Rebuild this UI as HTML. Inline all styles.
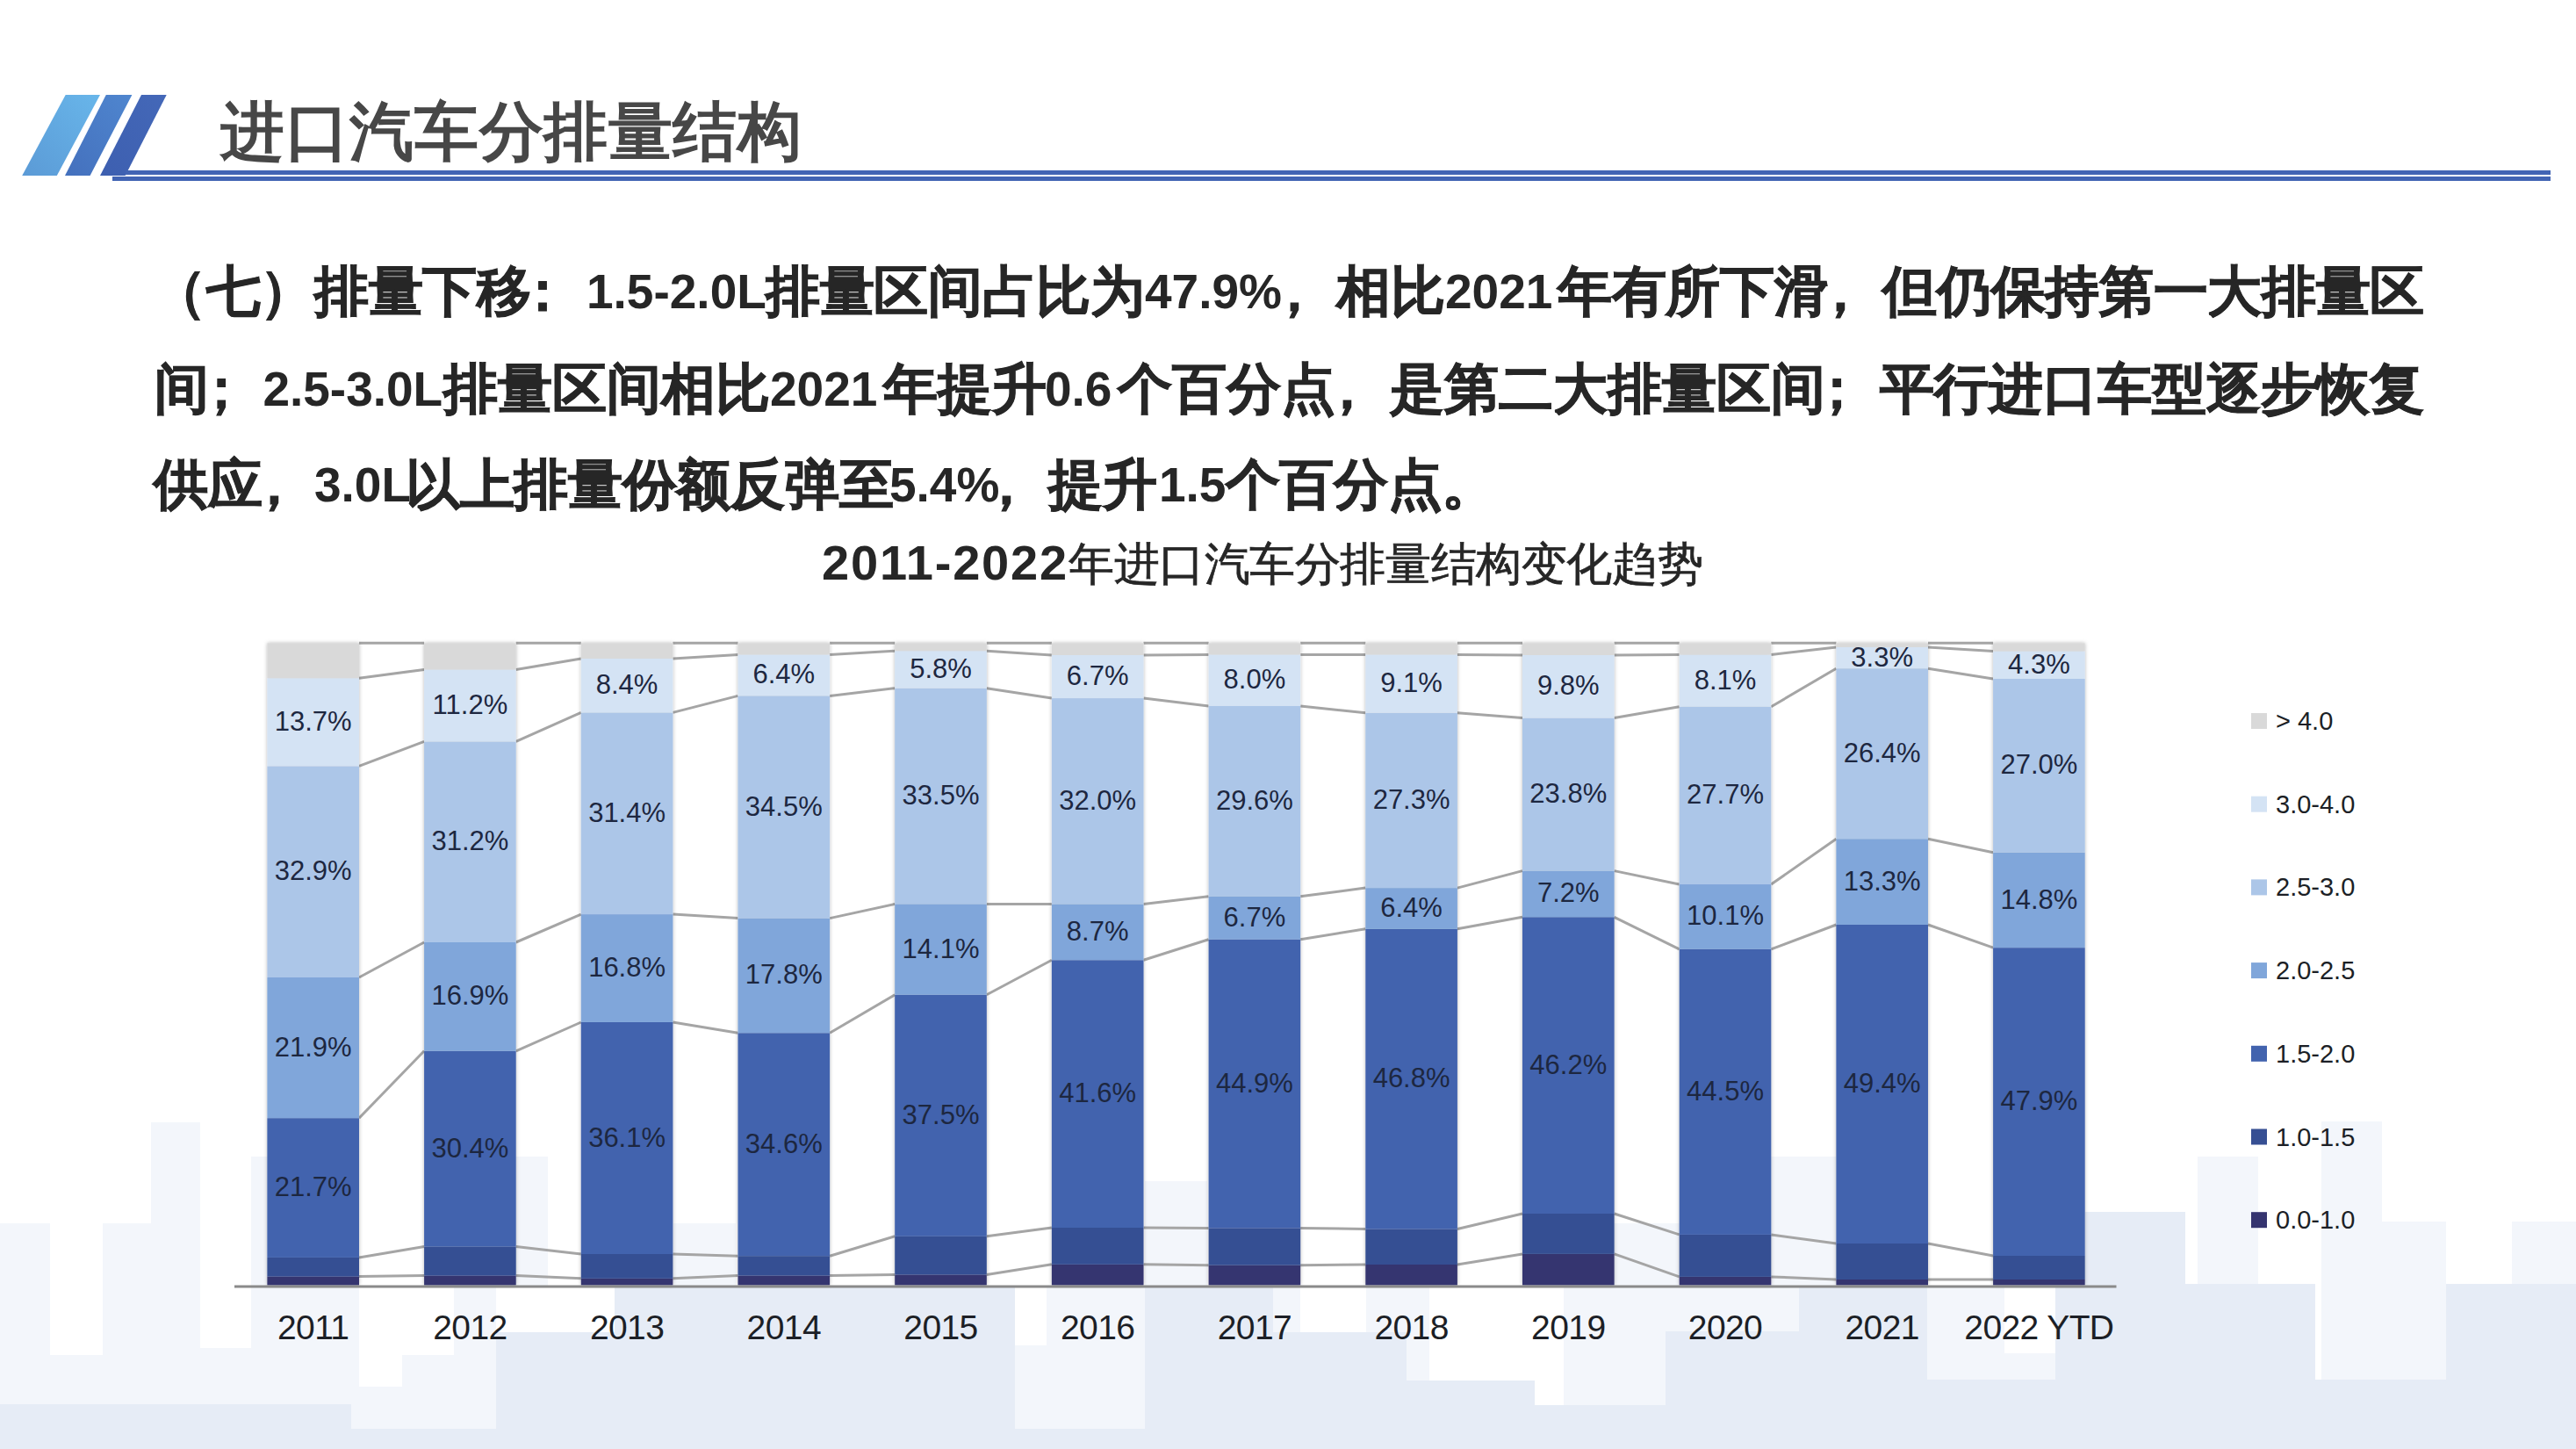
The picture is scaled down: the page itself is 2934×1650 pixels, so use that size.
<!DOCTYPE html>
<html><head><meta charset="utf-8"><title>进口汽车分排量结构</title>
<style>
html,body{margin:0;padding:0;background:#fff;}
body{width:2934px;height:1650px;position:relative;overflow:hidden;font-family:"Liberation Sans",sans-serif;}
.b{position:absolute;}
.chart{position:absolute;left:0;top:0;}
.c{display:inline-block;text-align:center;}
.p{position:relative;left:-0.28em;}
.title{position:absolute;left:251px;top:105px;height:90px;line-height:90px;font-size:73px;font-weight:bold;color:#474747;white-space:nowrap;}
.pc{position:absolute;height:80px;line-height:80px;font-size:62px;font-weight:bold;color:#262626;white-space:nowrap;-webkit-text-stroke:0.9px #262626;}
.pl{position:absolute;height:80px;line-height:80px;font-size:55px;font-weight:bold;color:#262626;white-space:nowrap;}
.ctitle{position:absolute;left:936px;top:606px;height:70px;line-height:70px;font-size:52px;font-weight:normal;color:#262626;-webkit-text-stroke:0.7px #262626;white-space:nowrap;}
.cl{font-size:56px;font-weight:bold;letter-spacing:1.8px;margin-right:0px;-webkit-text-stroke:0;}
.rule{position:absolute;background:#4264b4;}
</style></head><body>
<div class="b" style="left:0px;top:1599px;width:416px;height:51px;background:#e6ecf6"></div><div class="b" style="left:416px;top:1627px;width:149px;height:23px;background:#e6ecf6"></div><div class="b" style="left:565px;top:1517px;width:135px;height:133px;background:#e6ecf6"></div><div class="b" style="left:700px;top:1466px;width:456px;height:184px;background:#e6ecf6"></div><div class="b" style="left:1156px;top:1627px;width:148px;height:23px;background:#e6ecf6"></div><div class="b" style="left:1304px;top:1466px;width:177px;height:184px;background:#e6ecf6"></div><div class="b" style="left:1481px;top:1517px;width:121px;height:133px;background:#e6ecf6"></div><div class="b" style="left:1602px;top:1572px;width:146px;height:78px;background:#e6ecf6"></div><div class="b" style="left:1748px;top:1600px;width:149px;height:50px;background:#e6ecf6"></div><div class="b" style="left:1897px;top:1516px;width:152px;height:134px;background:#e6ecf6"></div><div class="b" style="left:2049px;top:1466px;width:146px;height:184px;background:#e6ecf6"></div><div class="b" style="left:2195px;top:1571px;width:146px;height:79px;background:#e6ecf6"></div><div class="b" style="left:2341px;top:1466px;width:34px;height:184px;background:#e6ecf6"></div><div class="b" style="left:2375px;top:1380px;width:114px;height:270px;background:#e6ecf6"></div><div class="b" style="left:2489px;top:1462px;width:148px;height:188px;background:#e6ecf6"></div><div class="b" style="left:2637px;top:1571px;width:149px;height:79px;background:#e6ecf6"></div><div class="b" style="left:2786px;top:1462px;width:148px;height:188px;background:#e6ecf6"></div><div class="b" style="left:0px;top:1393px;width:57px;height:206px;background:#f3f6fb"></div><div class="b" style="left:57px;top:1543px;width:60px;height:56px;background:#f3f6fb"></div><div class="b" style="left:117px;top:1393px;width:55px;height:206px;background:#f3f6fb"></div><div class="b" style="left:172px;top:1278px;width:56px;height:321px;background:#f3f6fb"></div><div class="b" style="left:228px;top:1535px;width:58px;height:64px;background:#f3f6fb"></div><div class="b" style="left:286px;top:1317px;width:123px;height:282px;background:#f3f6fb"></div><div class="b" style="left:483px;top:1317px;width:141px;height:149px;background:#f3f6fb"></div><div class="b" style="left:400px;top:1579px;width:58px;height:48px;background:#f3f6fb"></div><div class="b" style="left:458px;top:1543px;width:59px;height:84px;background:#f3f6fb"></div><div class="b" style="left:517px;top:1466px;width:48px;height:161px;background:#f3f6fb"></div><div class="b" style="left:767px;top:1393px;width:71px;height:73px;background:#f3f6fb"></div><div class="b" style="left:1156px;top:1466px;width:148px;height:161px;background:#f3f6fb"></div><div class="b" style="left:1156px;top:1466px;width:36px;height:66px;background:#ffffff"></div><div class="b" style="left:1304px;top:1345px;width:71px;height:121px;background:#f3f6fb"></div><div class="b" style="left:1450px;top:1466px;width:31px;height:51px;background:#f3f6fb"></div><div class="b" style="left:1556px;top:1466px;width:46px;height:51px;background:#f3f6fb"></div><div class="b" style="left:1602px;top:1466px;width:26px;height:106px;background:#f3f6fb"></div><div class="b" style="left:1781px;top:1466px;width:116px;height:134px;background:#f3f6fb"></div><div class="b" style="left:1897px;top:1466px;width:152px;height:50px;background:#f3f6fb"></div><div class="b" style="left:1838px;top:1393px;width:75px;height:73px;background:#f3f6fb"></div><div class="b" style="left:2017px;top:1317px;width:74px;height:149px;background:#f3f6fb"></div><div class="b" style="left:2195px;top:1466px;width:88px;height:105px;background:#f3f6fb"></div><div class="b" style="left:2283px;top:1541px;width:58px;height:30px;background:#f3f6fb"></div><div class="b" style="left:2503px;top:1317px;width:69px;height:145px;background:#f3f6fb"></div><div class="b" style="left:2644px;top:1277px;width:69px;height:294px;background:#f3f6fb"></div><div class="b" style="left:2713px;top:1391px;width:73px;height:180px;background:#f3f6fb"></div><div class="b" style="left:2861px;top:1391px;width:73px;height:71px;background:#f3f6fb"></div>
<svg style="position:absolute;left:0;top:0" width="240" height="220">
<defs>
<linearGradient id="g1" x1="0" y1="1" x2="1" y2="0"><stop offset="0" stop-color="#5b9ad6"/><stop offset="1" stop-color="#68b6ea"/></linearGradient>
<linearGradient id="g2" x1="0" y1="1" x2="1" y2="0"><stop offset="0" stop-color="#4470bd"/><stop offset="1" stop-color="#4f86cf"/></linearGradient>
<linearGradient id="g3" x1="0" y1="1" x2="1" y2="0"><stop offset="0" stop-color="#3d5fb0"/><stop offset="1" stop-color="#4468b8"/></linearGradient>
</defs>
<polygon points="74.7,108 114,108 64.8,200 25.2,200" fill="url(#g1)"/>
<polygon points="120.8,108 150.4,108 102.6,200 74,200" fill="url(#g2)"/>
<polygon points="161,108 189.7,108 142.7,200 114,200" fill="url(#g3)"/>
</svg>
<div class="rule" style="left:143px;top:194px;width:2762px;height:5px"></div>
<div class="rule" style="left:128px;top:201px;width:2777px;height:5px"></div>
<div class="title"><span class="c" style="width:73.60px">进</span><span class="c" style="width:73.60px">口</span><span class="c" style="width:73.60px">汽</span><span class="c" style="width:73.60px">车</span><span class="c" style="width:73.60px">分</span><span class="c" style="width:73.60px">排</span><span class="c" style="width:73.60px">量</span><span class="c" style="width:73.60px">结</span><span class="c" style="width:73.60px">构</span></div>
<div class="pc" style="left:173.0px;top:291.5px"><span class="c" style="width:61.70px">（</span><span class="c" style="width:61.70px">七</span><span class="c" style="width:61.70px">）</span><span class="c" style="width:61.70px">排</span><span class="c" style="width:61.70px">量</span><span class="c" style="width:61.70px">下</span><span class="c" style="width:61.70px">移</span><span class="c" style="width:61.70px"><span class="p">：</span></span></div><div class="pl" style="left:668.0px;top:291.5px">1.5-2.0L</div><div class="pc" style="left:872.0px;top:291.5px"><span class="c" style="width:61.70px">排</span><span class="c" style="width:61.70px">量</span><span class="c" style="width:61.70px">区</span><span class="c" style="width:61.70px">间</span><span class="c" style="width:61.70px">占</span><span class="c" style="width:61.70px">比</span><span class="c" style="width:61.70px">为</span></div><div class="pl" style="left:1304.0px;top:291.5px">47.9%</div><div class="pc" style="left:1460.3px;top:291.5px"><span class="c" style="width:61.70px"><span class="p">，</span></span><span class="c" style="width:61.70px">相</span><span class="c" style="width:61.70px">比</span></div><div class="pl" style="left:1646.0px;top:291.5px">2021</div><div class="pc" style="left:1774.0px;top:291.5px"><span class="c" style="width:61.70px">年</span><span class="c" style="width:61.70px">有</span><span class="c" style="width:61.70px">所</span><span class="c" style="width:61.70px">下</span><span class="c" style="width:61.70px">滑</span><span class="c" style="width:61.70px"><span class="p">，</span></span><span class="c" style="width:61.70px">但</span><span class="c" style="width:61.70px">仍</span><span class="c" style="width:61.70px">保</span><span class="c" style="width:61.70px">持</span><span class="c" style="width:61.70px">第</span><span class="c" style="width:61.70px">一</span><span class="c" style="width:61.70px">大</span><span class="c" style="width:61.70px">排</span><span class="c" style="width:61.70px">量</span><span class="c" style="width:61.70px">区</span></div><div class="pc" style="left:176.0px;top:402.5px"><span class="c" style="width:62.00px">间</span><span class="c" style="width:62.00px"><span class="p">；</span></span></div><div class="pl" style="left:299.4px;top:402.5px">2.5-3.0L</div><div class="pc" style="left:504.5px;top:402.5px"><span class="c" style="width:62.00px">排</span><span class="c" style="width:62.00px">量</span><span class="c" style="width:62.00px">区</span><span class="c" style="width:62.00px">间</span><span class="c" style="width:62.00px">相</span><span class="c" style="width:62.00px">比</span></div><div class="pl" style="left:877.0px;top:402.5px">2021</div><div class="pc" style="left:1006.0px;top:402.5px"><span class="c" style="width:62.00px">年</span><span class="c" style="width:62.00px">提</span><span class="c" style="width:62.00px">升</span></div><div class="pl" style="left:1190.0px;top:402.5px">0.6</div><div class="pc" style="left:1272.5px;top:402.5px"><span class="c" style="width:62.00px">个</span><span class="c" style="width:62.00px">百</span><span class="c" style="width:62.00px">分</span><span class="c" style="width:62.00px">点</span><span class="c" style="width:62.00px"><span class="p">，</span></span><span class="c" style="width:62.00px">是</span><span class="c" style="width:62.00px">第</span><span class="c" style="width:62.00px">二</span><span class="c" style="width:62.00px">大</span><span class="c" style="width:62.00px">排</span><span class="c" style="width:62.00px">量</span><span class="c" style="width:62.00px">区</span><span class="c" style="width:62.00px">间</span><span class="c" style="width:62.00px"><span class="p">；</span></span><span class="c" style="width:62.00px">平</span><span class="c" style="width:62.00px">行</span><span class="c" style="width:62.00px">进</span><span class="c" style="width:62.00px">口</span><span class="c" style="width:62.00px">车</span><span class="c" style="width:62.00px">型</span><span class="c" style="width:62.00px">逐</span><span class="c" style="width:62.00px">步</span><span class="c" style="width:62.00px">恢</span><span class="c" style="width:62.00px">复</span></div><div class="pc" style="left:175.0px;top:512.0px"><span class="c" style="width:61.70px">供</span><span class="c" style="width:61.70px">应</span><span class="c" style="width:61.70px"><span class="p">，</span></span></div><div class="pl" style="left:358.0px;top:512.0px">3.0L</div><div class="pc" style="left:462.0px;top:512.0px"><span class="c" style="width:61.70px">以</span><span class="c" style="width:61.70px">上</span><span class="c" style="width:61.70px">排</span><span class="c" style="width:61.70px">量</span><span class="c" style="width:61.70px">份</span><span class="c" style="width:61.70px">额</span><span class="c" style="width:61.70px">反</span><span class="c" style="width:61.70px">弹</span><span class="c" style="width:61.70px">至</span></div><div class="pl" style="left:1013.0px;top:512.0px">5.4%</div><div class="pc" style="left:1132.5px;top:512.0px"><span class="c" style="width:61.70px"><span class="p">，</span></span><span class="c" style="width:61.70px">提</span><span class="c" style="width:61.70px">升</span></div><div class="pl" style="left:1320.0px;top:512.0px">1.5</div><div class="pc" style="left:1395.5px;top:512.0px"><span class="c" style="width:61.70px">个</span><span class="c" style="width:61.70px">百</span><span class="c" style="width:61.70px">分</span><span class="c" style="width:61.70px">点</span><span class="c" style="width:61.70px">。</span></div>
<div class="ctitle"><span class="cl">2011-2022</span><span class="c" style="width:51.60px">年</span><span class="c" style="width:51.60px">进</span><span class="c" style="width:51.60px">口</span><span class="c" style="width:51.60px">汽</span><span class="c" style="width:51.60px">车</span><span class="c" style="width:51.60px">分</span><span class="c" style="width:51.60px">排</span><span class="c" style="width:51.60px">量</span><span class="c" style="width:51.60px">结</span><span class="c" style="width:51.60px">构</span><span class="c" style="width:51.60px">变</span><span class="c" style="width:51.60px">化</span><span class="c" style="width:51.60px">趋</span><span class="c" style="width:51.60px">势</span></div>
<svg class="chart" width="2934" height="1650" viewBox="0 0 2934 1650">
<defs><filter id="sh" x="-10%" y="-2%" width="120%" height="104%"><feDropShadow dx="0" dy="0" stdDeviation="2.2" flood-color="#000" flood-opacity="0.28"/></filter></defs>
<g stroke="#a5a5a5" stroke-width="3"><line x1="409.0" y1="1453.6" x2="483.1" y2="1452.6"/><line x1="587.7" y1="1452.6" x2="661.8" y2="1455.8"/><line x1="766.4" y1="1455.8" x2="840.5" y2="1452.6"/><line x1="945.1" y1="1452.6" x2="1019.2" y2="1451.5"/><line x1="1123.8" y1="1451.5" x2="1197.9" y2="1439.8"/><line x1="1302.5" y1="1439.8" x2="1376.6" y2="1440.7"/><line x1="1481.2" y1="1440.7" x2="1555.3" y2="1440.0"/><line x1="1659.9" y1="1440.0" x2="1734.0" y2="1427.9"/><line x1="1838.6" y1="1427.9" x2="1912.7" y2="1453.9"/><line x1="2017.3" y1="1453.9" x2="2091.4" y2="1457.0"/><line x1="2196.0" y1="1457.0" x2="2270.1" y2="1457.0"/><line x1="409.0" y1="1431.9" x2="483.1" y2="1419.5"/><line x1="587.7" y1="1419.5" x2="661.8" y2="1428.0"/><line x1="766.4" y1="1428.0" x2="840.5" y2="1430.2"/><line x1="945.1" y1="1430.2" x2="1019.2" y2="1407.8"/><line x1="1123.8" y1="1407.8" x2="1197.9" y2="1398.0"/><line x1="1302.5" y1="1398.0" x2="1376.6" y2="1398.4"/><line x1="1481.2" y1="1398.4" x2="1555.3" y2="1399.5"/><line x1="1659.9" y1="1399.5" x2="1734.0" y2="1382.0"/><line x1="1838.6" y1="1382.0" x2="1912.7" y2="1405.9"/><line x1="2017.3" y1="1405.9" x2="2091.4" y2="1416.0"/><line x1="2196.0" y1="1416.0" x2="2270.1" y2="1430.0"/><line x1="409.0" y1="1273.2" x2="483.1" y2="1196.8"/><line x1="587.7" y1="1196.8" x2="661.8" y2="1164.0"/><line x1="766.4" y1="1164.0" x2="840.5" y2="1176.2"/><line x1="945.1" y1="1176.2" x2="1019.2" y2="1132.8"/><line x1="1123.8" y1="1132.8" x2="1197.9" y2="1093.2"/><line x1="1302.5" y1="1093.2" x2="1376.6" y2="1069.7"/><line x1="1481.2" y1="1069.7" x2="1555.3" y2="1057.8"/><line x1="1659.9" y1="1057.8" x2="1734.0" y2="1044.3"/><line x1="1838.6" y1="1044.3" x2="1912.7" y2="1080.8"/><line x1="2017.3" y1="1080.8" x2="2091.4" y2="1053.0"/><line x1="2196.0" y1="1053.0" x2="2270.1" y2="1079.2"/><line x1="409.0" y1="1113.0" x2="483.1" y2="1073.0"/><line x1="587.7" y1="1073.0" x2="661.8" y2="1041.1"/><line x1="766.4" y1="1041.1" x2="840.5" y2="1045.6"/><line x1="945.1" y1="1045.6" x2="1019.2" y2="1029.4"/><line x1="1123.8" y1="1029.4" x2="1197.9" y2="1029.5"/><line x1="1302.5" y1="1029.5" x2="1376.6" y2="1020.7"/><line x1="1481.2" y1="1020.7" x2="1555.3" y2="1011.1"/><line x1="1659.9" y1="1011.1" x2="1734.0" y2="991.6"/><line x1="1838.6" y1="991.6" x2="1912.7" y2="1007.0"/><line x1="2017.3" y1="1007.0" x2="2091.4" y2="955.2"/><line x1="2196.0" y1="955.2" x2="2270.1" y2="970.8"/><line x1="409.0" y1="872.4" x2="483.1" y2="844.4"/><line x1="587.7" y1="844.4" x2="661.8" y2="811.4"/><line x1="766.4" y1="811.4" x2="840.5" y2="792.4"/><line x1="945.1" y1="792.4" x2="1019.2" y2="783.7"/><line x1="1123.8" y1="783.7" x2="1197.9" y2="795.1"/><line x1="1302.5" y1="795.1" x2="1376.6" y2="804.0"/><line x1="1481.2" y1="804.0" x2="1555.3" y2="811.8"/><line x1="1659.9" y1="811.8" x2="1734.0" y2="817.6"/><line x1="1838.6" y1="817.6" x2="1912.7" y2="804.7"/><line x1="2017.3" y1="804.7" x2="2091.4" y2="761.2"/><line x1="2196.0" y1="761.2" x2="2270.1" y2="773.0"/><line x1="409.0" y1="772.2" x2="483.1" y2="762.4"/><line x1="587.7" y1="762.4" x2="661.8" y2="750.0"/><line x1="766.4" y1="750.0" x2="840.5" y2="745.4"/><line x1="945.1" y1="745.4" x2="1019.2" y2="741.2"/><line x1="1123.8" y1="741.2" x2="1197.9" y2="746.0"/><line x1="1302.5" y1="746.0" x2="1376.6" y2="745.4"/><line x1="1481.2" y1="745.4" x2="1555.3" y2="745.4"/><line x1="1659.9" y1="745.4" x2="1734.0" y2="746.0"/><line x1="1838.6" y1="746.0" x2="1912.7" y2="745.5"/><line x1="2017.3" y1="745.5" x2="2091.4" y2="737.0"/><line x1="2196.0" y1="737.0" x2="2270.1" y2="741.5"/><line x1="409.0" y1="732.3" x2="483.1" y2="732.3"/><line x1="587.7" y1="732.3" x2="661.8" y2="732.3"/><line x1="766.4" y1="732.3" x2="840.5" y2="732.3"/><line x1="945.1" y1="732.3" x2="1019.2" y2="732.3"/><line x1="1123.8" y1="732.3" x2="1197.9" y2="732.3"/><line x1="1302.5" y1="732.3" x2="1376.6" y2="732.3"/><line x1="1481.2" y1="732.3" x2="1555.3" y2="732.3"/><line x1="1659.9" y1="732.3" x2="1734.0" y2="732.3"/><line x1="1838.6" y1="732.3" x2="1912.7" y2="732.3"/><line x1="2017.3" y1="732.3" x2="2091.4" y2="732.3"/><line x1="2196.0" y1="732.3" x2="2270.1" y2="732.3"/></g>
<g filter="url(#sh)">
<rect x="304.4" y="1453.60" width="104.6" height="9.90" fill="#35346f"/>
<rect x="304.4" y="1431.90" width="104.6" height="21.70" fill="#364f93"/>
<rect x="304.4" y="1273.19" width="104.6" height="158.71" fill="#4263ae"/>
<rect x="304.4" y="1113.02" width="104.6" height="160.17" fill="#80a6da"/>
<rect x="304.4" y="872.40" width="104.6" height="240.62" fill="#acc6e8"/>
<rect x="304.4" y="772.20" width="104.6" height="100.20" fill="#d4e3f4"/>
<rect x="304.4" y="732.30" width="104.6" height="39.90" fill="#d9d9d9"/>
</g>
<g filter="url(#sh)">
<rect x="483.1" y="1452.60" width="104.6" height="10.90" fill="#35346f"/>
<rect x="483.1" y="1419.50" width="104.6" height="33.10" fill="#364f93"/>
<rect x="483.1" y="1196.80" width="104.6" height="222.70" fill="#4263ae"/>
<rect x="483.1" y="1073.00" width="104.6" height="123.80" fill="#80a6da"/>
<rect x="483.1" y="844.45" width="104.6" height="228.56" fill="#acc6e8"/>
<rect x="483.1" y="762.40" width="104.6" height="82.05" fill="#d4e3f4"/>
<rect x="483.1" y="732.30" width="104.6" height="30.10" fill="#d9d9d9"/>
</g>
<g filter="url(#sh)">
<rect x="661.8" y="1455.80" width="104.6" height="7.70" fill="#35346f"/>
<rect x="661.8" y="1428.00" width="104.6" height="27.80" fill="#364f93"/>
<rect x="661.8" y="1163.97" width="104.6" height="264.03" fill="#4263ae"/>
<rect x="661.8" y="1041.09" width="104.6" height="122.87" fill="#80a6da"/>
<rect x="661.8" y="811.44" width="104.6" height="229.66" fill="#acc6e8"/>
<rect x="661.8" y="750.00" width="104.6" height="61.44" fill="#d4e3f4"/>
<rect x="661.8" y="732.30" width="104.6" height="17.70" fill="#d9d9d9"/>
</g>
<g filter="url(#sh)">
<rect x="840.5" y="1452.60" width="104.6" height="10.90" fill="#35346f"/>
<rect x="840.5" y="1430.20" width="104.6" height="22.40" fill="#364f93"/>
<rect x="840.5" y="1176.24" width="104.6" height="253.96" fill="#4263ae"/>
<rect x="840.5" y="1045.60" width="104.6" height="130.65" fill="#80a6da"/>
<rect x="840.5" y="792.37" width="104.6" height="253.22" fill="#acc6e8"/>
<rect x="840.5" y="745.40" width="104.6" height="46.97" fill="#d4e3f4"/>
<rect x="840.5" y="732.30" width="104.6" height="13.10" fill="#d9d9d9"/>
</g>
<g filter="url(#sh)">
<rect x="1019.2" y="1451.50" width="104.6" height="12.00" fill="#35346f"/>
<rect x="1019.2" y="1407.80" width="104.6" height="43.70" fill="#364f93"/>
<rect x="1019.2" y="1132.80" width="104.6" height="275.00" fill="#4263ae"/>
<rect x="1019.2" y="1029.40" width="104.6" height="103.40" fill="#80a6da"/>
<rect x="1019.2" y="783.73" width="104.6" height="245.67" fill="#acc6e8"/>
<rect x="1019.2" y="741.20" width="104.6" height="42.53" fill="#d4e3f4"/>
<rect x="1019.2" y="732.30" width="104.6" height="8.90" fill="#d9d9d9"/>
</g>
<g filter="url(#sh)">
<rect x="1197.9" y="1439.80" width="104.6" height="23.70" fill="#35346f"/>
<rect x="1197.9" y="1398.00" width="104.6" height="41.80" fill="#364f93"/>
<rect x="1197.9" y="1093.24" width="104.6" height="304.76" fill="#4263ae"/>
<rect x="1197.9" y="1029.51" width="104.6" height="63.73" fill="#80a6da"/>
<rect x="1197.9" y="795.08" width="104.6" height="234.43" fill="#acc6e8"/>
<rect x="1197.9" y="746.00" width="104.6" height="49.08" fill="#d4e3f4"/>
<rect x="1197.9" y="732.30" width="104.6" height="13.70" fill="#d9d9d9"/>
</g>
<g filter="url(#sh)">
<rect x="1376.6" y="1440.70" width="104.6" height="22.80" fill="#35346f"/>
<rect x="1376.6" y="1398.40" width="104.6" height="42.30" fill="#364f93"/>
<rect x="1376.6" y="1069.70" width="104.6" height="328.70" fill="#4263ae"/>
<rect x="1376.6" y="1020.66" width="104.6" height="49.05" fill="#80a6da"/>
<rect x="1376.6" y="803.97" width="104.6" height="216.69" fill="#acc6e8"/>
<rect x="1376.6" y="745.40" width="104.6" height="58.57" fill="#d4e3f4"/>
<rect x="1376.6" y="732.30" width="104.6" height="13.10" fill="#d9d9d9"/>
</g>
<g filter="url(#sh)">
<rect x="1555.3" y="1440.00" width="104.6" height="23.50" fill="#35346f"/>
<rect x="1555.3" y="1399.50" width="104.6" height="40.50" fill="#364f93"/>
<rect x="1555.3" y="1057.85" width="104.6" height="341.65" fill="#4263ae"/>
<rect x="1555.3" y="1011.13" width="104.6" height="46.72" fill="#80a6da"/>
<rect x="1555.3" y="811.83" width="104.6" height="199.30" fill="#acc6e8"/>
<rect x="1555.3" y="745.40" width="104.6" height="66.43" fill="#d4e3f4"/>
<rect x="1555.3" y="732.30" width="104.6" height="13.10" fill="#d9d9d9"/>
</g>
<g filter="url(#sh)">
<rect x="1734.0" y="1427.90" width="104.6" height="35.60" fill="#35346f"/>
<rect x="1734.0" y="1382.00" width="104.6" height="45.90" fill="#364f93"/>
<rect x="1734.0" y="1044.26" width="104.6" height="337.74" fill="#4263ae"/>
<rect x="1734.0" y="991.63" width="104.6" height="52.63" fill="#80a6da"/>
<rect x="1734.0" y="817.64" width="104.6" height="173.99" fill="#acc6e8"/>
<rect x="1734.0" y="746.00" width="104.6" height="71.64" fill="#d4e3f4"/>
<rect x="1734.0" y="732.30" width="104.6" height="13.70" fill="#d9d9d9"/>
</g>
<g filter="url(#sh)">
<rect x="1912.7" y="1453.90" width="104.6" height="9.60" fill="#35346f"/>
<rect x="1912.7" y="1405.90" width="104.6" height="48.00" fill="#364f93"/>
<rect x="1912.7" y="1080.81" width="104.6" height="325.09" fill="#4263ae"/>
<rect x="1912.7" y="1007.03" width="104.6" height="73.78" fill="#80a6da"/>
<rect x="1912.7" y="804.67" width="104.6" height="202.36" fill="#acc6e8"/>
<rect x="1912.7" y="745.50" width="104.6" height="59.17" fill="#d4e3f4"/>
<rect x="1912.7" y="732.30" width="104.6" height="13.20" fill="#d9d9d9"/>
</g>
<g filter="url(#sh)">
<rect x="2091.4" y="1457.00" width="104.6" height="6.50" fill="#35346f"/>
<rect x="2091.4" y="1416.00" width="104.6" height="41.00" fill="#364f93"/>
<rect x="2091.4" y="1052.98" width="104.6" height="363.02" fill="#4263ae"/>
<rect x="2091.4" y="955.25" width="104.6" height="97.73" fill="#80a6da"/>
<rect x="2091.4" y="761.25" width="104.6" height="194.00" fill="#acc6e8"/>
<rect x="2091.4" y="737.00" width="104.6" height="24.25" fill="#d4e3f4"/>
<rect x="2091.4" y="732.30" width="104.6" height="4.70" fill="#d9d9d9"/>
</g>
<g filter="url(#sh)">
<rect x="2270.1" y="1457.00" width="104.6" height="6.50" fill="#35346f"/>
<rect x="2270.1" y="1430.00" width="104.6" height="27.00" fill="#364f93"/>
<rect x="2270.1" y="1079.16" width="104.6" height="350.84" fill="#4263ae"/>
<rect x="2270.1" y="970.76" width="104.6" height="108.40" fill="#80a6da"/>
<rect x="2270.1" y="773.00" width="104.6" height="197.76" fill="#acc6e8"/>
<rect x="2270.1" y="741.50" width="104.6" height="31.50" fill="#d4e3f4"/>
<rect x="2270.1" y="732.30" width="104.6" height="9.20" fill="#d9d9d9"/>
</g>
<rect x="267" y="1463.5" width="2143.5" height="3" fill="#8a8a8a"/>
<g font-family="Liberation Sans, sans-serif" font-size="31" fill="#1d2740" text-anchor="middle">
<text x="356.7" y="1362.0">21.7%</text>
<text x="356.7" y="1202.6">21.9%</text>
<text x="356.7" y="1002.2">32.9%</text>
<text x="356.7" y="831.8">13.7%</text>
<text x="535.4" y="1317.7">30.4%</text>
<text x="535.4" y="1144.4">16.9%</text>
<text x="535.4" y="968.2">31.2%</text>
<text x="535.4" y="812.9">11.2%</text>
<text x="714.1" y="1305.5">36.1%</text>
<text x="714.1" y="1112.0">16.8%</text>
<text x="714.1" y="935.8">31.4%</text>
<text x="714.1" y="790.2">8.4%</text>
<text x="892.8" y="1312.7">34.6%</text>
<text x="892.8" y="1120.4">17.8%</text>
<text x="892.8" y="928.5">34.5%</text>
<text x="892.8" y="778.4">6.4%</text>
<text x="1071.5" y="1279.8">37.5%</text>
<text x="1071.5" y="1090.6">14.1%</text>
<text x="1071.5" y="916.1">33.5%</text>
<text x="1071.5" y="772.0">5.8%</text>
<text x="1250.2" y="1255.1">41.6%</text>
<text x="1250.2" y="1070.9">8.7%</text>
<text x="1250.2" y="921.8">32.0%</text>
<text x="1250.2" y="780.0">6.7%</text>
<text x="1428.9" y="1243.6">44.9%</text>
<text x="1428.9" y="1054.7">6.7%</text>
<text x="1428.9" y="921.8">29.6%</text>
<text x="1428.9" y="784.2">8.0%</text>
<text x="1607.6" y="1238.2">46.8%</text>
<text x="1607.6" y="1044.0">6.4%</text>
<text x="1607.6" y="921.0">27.3%</text>
<text x="1607.6" y="788.1">9.1%</text>
<text x="1786.3" y="1222.6">46.2%</text>
<text x="1786.3" y="1027.4">7.2%</text>
<text x="1786.3" y="914.1">23.8%</text>
<text x="1786.3" y="791.3">9.8%</text>
<text x="1965.0" y="1252.9">44.5%</text>
<text x="1965.0" y="1053.4">10.1%</text>
<text x="1965.0" y="915.4">27.7%</text>
<text x="1965.0" y="784.6">8.1%</text>
<text x="2143.7" y="1244.0">49.4%</text>
<text x="2143.7" y="1013.6">13.3%</text>
<text x="2143.7" y="867.8">26.4%</text>
<text x="2143.7" y="758.6">3.3%</text>
<text x="2322.4" y="1264.1">47.9%</text>
<text x="2322.4" y="1034.5">14.8%</text>
<text x="2322.4" y="881.4">27.0%</text>
<text x="2322.4" y="766.7">4.3%</text>
</g>
<g font-family="Liberation Sans, sans-serif" font-size="39" letter-spacing="-0.6" fill="#1c1f26" text-anchor="middle">
<text x="356.7" y="1525">2011</text>
<text x="535.4" y="1525">2012</text>
<text x="714.1" y="1525">2013</text>
<text x="892.8" y="1525">2014</text>
<text x="1071.5" y="1525">2015</text>
<text x="1250.2" y="1525">2016</text>
<text x="1428.9" y="1525">2017</text>
<text x="1607.6" y="1525">2018</text>
<text x="1786.3" y="1525">2019</text>
<text x="1965.0" y="1525">2020</text>
<text x="2143.7" y="1525">2021</text>
<text x="2322.4" y="1525">2022 YTD</text>
</g>
<g font-family="Liberation Sans, sans-serif" font-size="29" fill="#1c1f26">
<rect x="2564" y="812.0" width="18" height="18" fill="#d9d9d9"/>
<text x="2592" y="831.0">> 4.0</text>
<rect x="2564" y="906.7" width="18" height="18" fill="#d4e3f4"/>
<text x="2592" y="925.7">3.0-4.0</text>
<rect x="2564" y="1001.4" width="18" height="18" fill="#acc6e8"/>
<text x="2592" y="1020.4">2.5-3.0</text>
<rect x="2564" y="1096.1" width="18" height="18" fill="#80a6da"/>
<text x="2592" y="1115.1">2.0-2.5</text>
<rect x="2564" y="1190.8" width="18" height="18" fill="#4263ae"/>
<text x="2592" y="1209.8">1.5-2.0</text>
<rect x="2564" y="1285.5" width="18" height="18" fill="#364f93"/>
<text x="2592" y="1304.5">1.0-1.5</text>
<rect x="2564" y="1380.2" width="18" height="18" fill="#35346f"/>
<text x="2592" y="1399.2">0.0-1.0</text>
</g>
</svg>
</body></html>
